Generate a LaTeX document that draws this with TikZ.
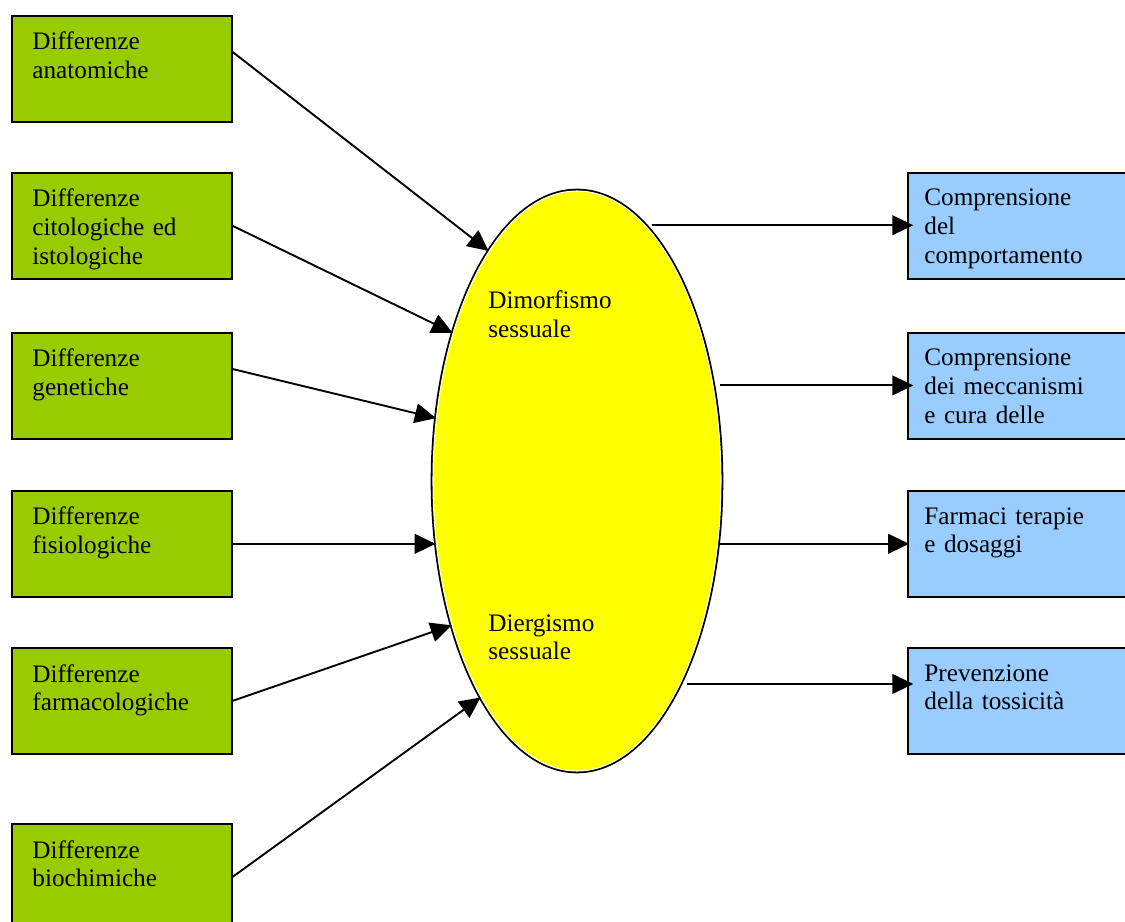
\documentclass[tikz,border=0pt]{standalone}
\usepackage{fontspec}
\setmainfont{Liberation Serif}
\usetikzlibrary{shapes.geometric,arrows.meta}
\definecolor{leafgreen}{RGB}{153,204,0}
\definecolor{skyblue}{RGB}{153,204,255}
\definecolor{sunyellow}{RGB}{255,255,0}
\newdimen\pxu
\pxu=0.4762pt

\begin{document}
\begin{tikzpicture}[x=\pxu, y=-\pxu,
  lbox/.style = {draw, line width=0.8pt, fill=leafgreen, anchor=north west, minimum width=220\pxu, minimum height=106\pxu, inner sep=0pt},
  rbox/.style = {lbox, fill=skyblue},
  txt/.style = {anchor=base west, inner sep=0pt, text width=200\pxu, align=left, font=\fontsize{12}{13.8}\selectfont},
  ell/.style = {ellipse, fill=sunyellow, draw=white, line width=0.5pt, preaction={draw=black, line width=2.2pt}, minimum width=288\pxu, minimum height=580\pxu, inner sep=0pt},
  arr/.style = {-{Triangle[length=10pt, width=9.4pt]}, line width=0.9pt}]
        \useasboundingbox (0,0) rectangle (1125,922);
        \clip (0,0) rectangle (1125,922);
        % boxes on the left
        \node[lbox] (l1) at (11,15) {};
        \node[lbox] (l2) at (11,172) {};
        \node[lbox] (l3) at (11,332) {};
        \node[lbox] (l4) at (11,490) {};
        \node[lbox] (l5) at (11,647) {};
        \node[lbox] (l6) at (11,823) {};
        \node[txt] (l1t) at ([shift={(21,35)}]l1.north west) {Differenze\\anatomiche};
        \node[txt] (l2t) at ([shift={(21,35)}]l2.north west) {Differenze\\citologiche ed\\istologiche};
        \node[txt] (l3t) at ([shift={(21,35)}]l3.north west) {Differenze\\genetiche};
        \node[txt] (l4t) at ([shift={(21,35)}]l4.north west) {Differenze\\fisiologiche};
        \node[txt] (l5t) at ([shift={(21,35)}]l5.north west) {Differenze\\farmacologiche};
        \node[txt] (l6t) at ([shift={(21,35)}]l6.north west) {Differenze\\biochimiche};
        % the ellipse
        \node[ell] (dim) at (577,481) {};
        \node[txt] (dimt) at ([shift={(-89,-172)}]dim.center) {Dimorfismo\\sessuale};
        \node[txt] (diet) at ([shift={(-89,150)}]dim.center) {Diergismo\\sessuale};
        % boxes on the right
        \node[rbox] (r1) at (907,172) {};
        \node[rbox] (r2) at (907,332) {};
        \node[rbox] (r3) at (907,490) {};
        \node[rbox] (r4) at (907,647) {};
        \node[txt] (r1t) at ([shift={(17,34)}]r1.north west) {Comprensione\\del\\comportamento};
        \node[txt] (r2t) at ([shift={(17,34)}]r2.north west) {Comprensione\\dei meccanismi\\e cura delle};
        \node[txt] (r3t) at ([shift={(17,34)}]r3.north west) {Farmaci terapie\\e dosaggi};
        \node[txt] (r4t) at ([shift={(17,34)}]r4.north west) {Prevenzione\\della tossicità};
        % arrows in
        \draw[arr] ([yshift=8pt]l1.east) -> (dim.111.8);
        \draw[arr] (l2.east) -> (dim.130.4);
        \draw[arr] ([yshift=8pt]l3.east) -> (dim.156.7);
        \draw[arr] (l4.east) -> (l4.east -| dim.203.8);
        \draw[arr] (l5.east) -> (dim.229.6);
        \draw[arr] (l6.east) -> (dim.246.9);
        % arrows out
        \draw[arr] ([xshift=3pt]dim.75) -> ([xshift=3pt]dim.75 -| r1.west);
        \draw[arr] ([xshift=3pt]dim.35.9) -> ([xshift=3pt]dim.35.9 -| r2.west);
        \draw[arr] ([xshift=1pt]dim.336.9) -> ([xshift=1pt]dim.336.9 -| r3.west);
        \draw[arr] ([xshift=3pt]dim.297.3) -> ([xshift=3pt]dim.297.3 -| r4.west);
\end{tikzpicture}
\end{document}
